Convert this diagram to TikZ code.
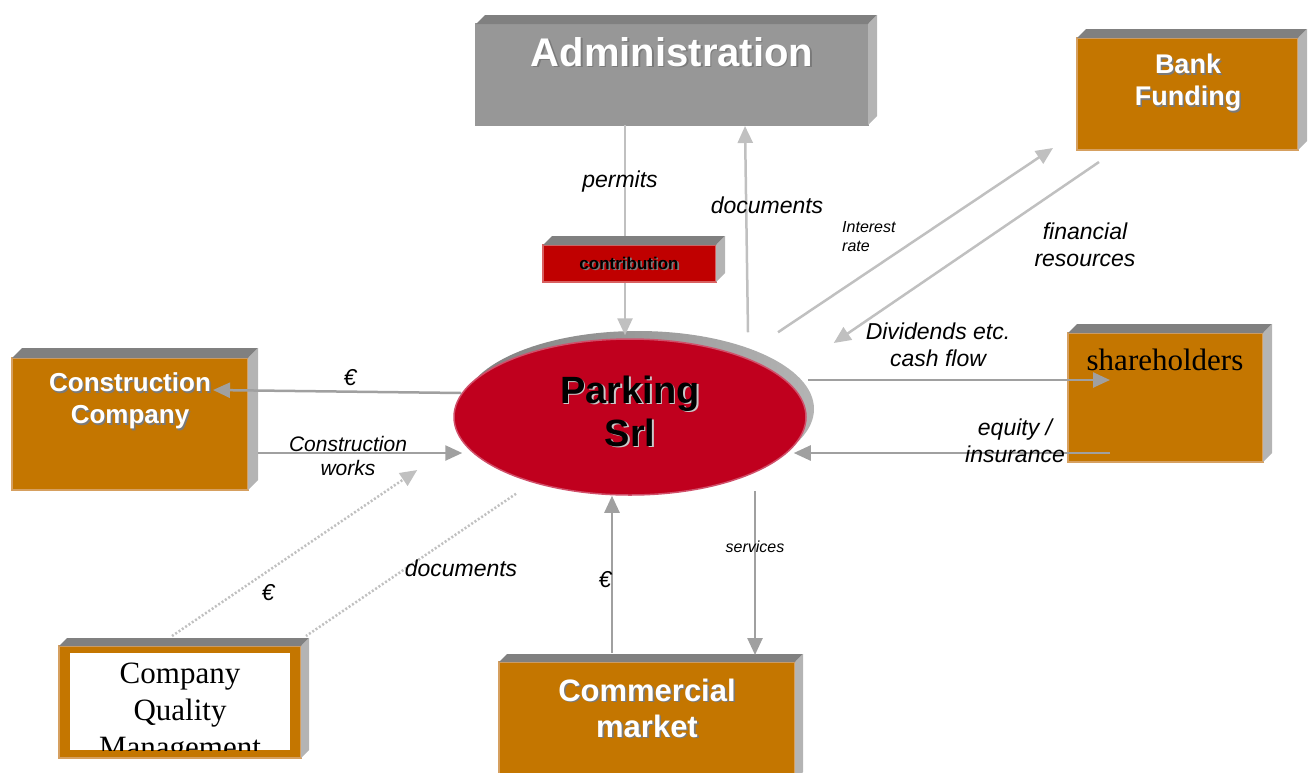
\documentclass[tikz,border=0pt]{standalone}
\usepackage{fontspec}
\setmainfont{Liberation Sans}
\newfontfamily\serifr{Liberation Serif}
\usetikzlibrary{arrows.meta,calc,shapes.geometric}
\definecolor{orng}{HTML}{C47600}
\definecolor{orngedge}{HTML}{D6A060}
\definecolor{admgray}{HTML}{979797}
\definecolor{topgray}{HTML}{808080}
\definecolor{sidegray}{HTML}{B4B4B4}
\definecolor{conred}{HTML}{C00000}
\definecolor{conedge}{HTML}{D86060}
\definecolor{parkred}{HTML}{C0001E}
\definecolor{parkedge}{HTML}{D0506A}
\definecolor{linegray}{HTML}{A0A0A0}
\definecolor{lightline}{HTML}{C0C0C0}
\definecolor{shadowgray}{HTML}{7A7A7A}
\definecolor{lightshadow}{HTML}{C8C8C8}
\newcommand\extrude[2]{%
  \fill[topgray] (#1.north west) -- ++(#2,-#2) -- ($(#1.north east)+(#2,-#2)$) -- (#1.north east) -- cycle;
  \fill[sidegray] (#1.north east) -- ++(#2,-#2) -- ($(#1.south east)+(#2,-#2)$) -- (#1.south east) -- cycle;}
\newcommand\shadowtext[6]{% name, position, style, fg, shadow colour, text
  \node[#3, text=#5] (#1-s) at ($(#2)+(1.6,1.6)$) {#6};
  \node[#3, text=#4] (#1) at (#2) {#6};}
\begin{document}
\begin{tikzpicture}[x=1pt,y=-1pt,
  box/.style={draw=orngedge, line width=1.2pt, fill=orng, inner sep=0pt, outer sep=0pt},
  boxtext/.style={font=\bfseries, align=center, inner sep=0pt},
  flow/.style={draw=linegray, line width=2.5pt, -{Triangle[length=17pt,width=15pt]}},
  lightflow/.style={draw=lightline, line width=2.5pt, -{Triangle[length=17pt,width=15pt]}},
  dotflow/.style={draw=lightline, line width=2.5pt, dash pattern=on 2pt off 2pt},
  lab/.style={font=\fontsize{23}{27}\selectfont\itshape, align=center, inner sep=0pt},
  smalllab/.style={font=\fontsize{16}{19}\selectfont\itshape, align=left, inner sep=0pt}]
\useasboundingbox (0,0) rectangle (1314,772);

% ---------- boxes ----------
\node[box, fill=admgray, draw=admgray, minimum width=392pt, minimum height=101pt] (adm) at (672,74.5) {};
\extrude{adm}{9}
\node[box, minimum width=221pt, minimum height=112pt] (bank) at (1187.5,94) {};
\extrude{bank}{9}
\node[box, minimum width=195pt, minimum height=129pt] (share) at (1165.5,397.5) {};
\extrude{share}{9}
\node[box, minimum width=236pt, minimum height=132pt] (cons) at (130,424) {};
\extrude{cons}{10}
\node[box, minimum width=242pt, minimum height=112pt] (cqm) at (180,702) {};
\extrude{cqm}{8}
\fill[white] (70,653) rectangle (290,750);
\node[box, minimum width=296pt, minimum height=118pt] (comm) at (647,721) {};
\extrude{comm}{8}

% ---------- central ellipse ----------
\node[ellipse, left color=topgray, right color=sidegray, minimum width=352pt, minimum height=156pt, inner sep=0pt] (parksh) at (638,409) {};
\node[ellipse, fill=parkred, draw=parkedge, line width=1.5pt, minimum width=352pt, minimum height=156pt, inner sep=0pt] (park) at (630,417) {};

% ---------- connectors ----------
\draw[lightflow] ($(adm.south)+(-47,0)$) -- ($(park.north)+(-5,-3)$);
\node[box, fill=conred, draw=conedge, minimum width=173pt, minimum height=37pt] (contrib) at (629.5,263.5) {};
\extrude{contrib}{9}
\draw[lightflow] ($(park.north)+(118,-6)$) -- ($(adm.south)+(73,1)$);
\draw[lightflow] ($(park.north)+(148,-6)$) -- ($(bank.south west)+(-24,-2)$);
\draw[lightflow] ($(bank.south west)+(22,12)$) -- ($(park.east)+(27,-74)$);
\draw[flow] ($(park.east)+(1,-37)$) -- ($(share.west)+(42,-17.5)$);
\draw[flow] ($(share.west)+(42,55.5)$) -- ($(park.east)+(-13,36)$);
\draw[flow] ($(park.west)+(8,-24)$) -- ($(cons.east)+(-35,-34)$);
\draw[flow] ($(cons.east)+(10,29)$) -- ($(park.west)+(9,36)$);
\draw[dotflow, -{Triangle[length=17pt,width=15pt]}] ($(cqm.north)+(-8,-10)$) -- ($(park.west)+(-36,53)$);
\draw[dotflow] ($(park.south)+(-114,-2)$) -- ($(cqm.north east)+(5,-10)$);
\draw[flow] ($(comm.north)+(-35,-9)$) -- ($(park.south)+(-18,0)$);
\draw[flow] ($(park.south)+(125,-5)$) -- ($(comm.north)+(108,-7)$);

% ---------- box texts ----------
\shadowtext{admt}{672,52}{boxtext, font=\fontsize{40}{46}\selectfont\bfseries}{white}{shadowgray}{Administration}
\shadowtext{contribt}{629,263}{boxtext, font=\fontsize{17}{20}\selectfont\bfseries}{black}{shadowgray}{contribution}
\shadowtext{bankt}{1188,83}{boxtext, font=\fontsize{27}{32}\selectfont\bfseries}{white}{shadowgray}{Bank\\Funding}
\shadowtext{const}{130,401}{boxtext, font=\fontsize{26}{32}\selectfont\bfseries}{white}{shadowgray}{Construction\\Company}
\shadowtext{commt}{647,708}{boxtext, font=\fontsize{31}{36}\selectfont\bfseries}{white}{shadowgray}{Commercial\\market}
\shadowtext{parkt}{630,411}{boxtext, font=\fontsize{38}{43}\selectfont\bfseries}{black}{lightshadow}{Parking\\Srl}
\node[anchor=base, inner sep=0pt, font=\serifr\fontsize{31}{37}\selectfont] (sharet) at (1165,370) {shareholders};
\begin{scope}
  \clip (70,653) rectangle (290,750);
  \node[anchor=base, inner sep=0pt, font=\serifr\fontsize{31}{37}\selectfont] (cqm1) at (180,683) {Company};
  \node[anchor=base, inner sep=0pt, font=\serifr\fontsize{31}{37}\selectfont] (cqm2) at (180,720) {Quality};
  \node[anchor=base, inner sep=0pt, font=\serifr\fontsize{31}{37}\selectfont] (cqm3) at (180,757) {Management};
\end{scope}

% ---------- connector labels ----------
\node[lab] (lpermits) at (620,182) {permits};
\node[lab] (ldocs1) at (767,205) {documents};
\node[smalllab, anchor=west] (lint) at (842,237) {Interest\\rate};
\node[lab] (lfin) at (1085,245) {financial\\resources};
\node[lab] (ldiv) at (938,345) {Dividends etc.\\cash flow};
\node[lab] (lequ) at (1015,441) {equity /\\insurance};
\node[lab] (leur1) at (350,378) {€};
\node[lab, font=\fontsize{21}{24}\selectfont\itshape] (lcw) at (348,456) {Construction\\works};
\node[lab] (leur2) at (268,593) {€};
\node[lab] (ldocs2) at (461,568) {documents};
\node[lab] (leur3) at (605,580) {€};
\node[smalllab] (lserv) at (755,547) {services};
\end{tikzpicture}
\end{document}
